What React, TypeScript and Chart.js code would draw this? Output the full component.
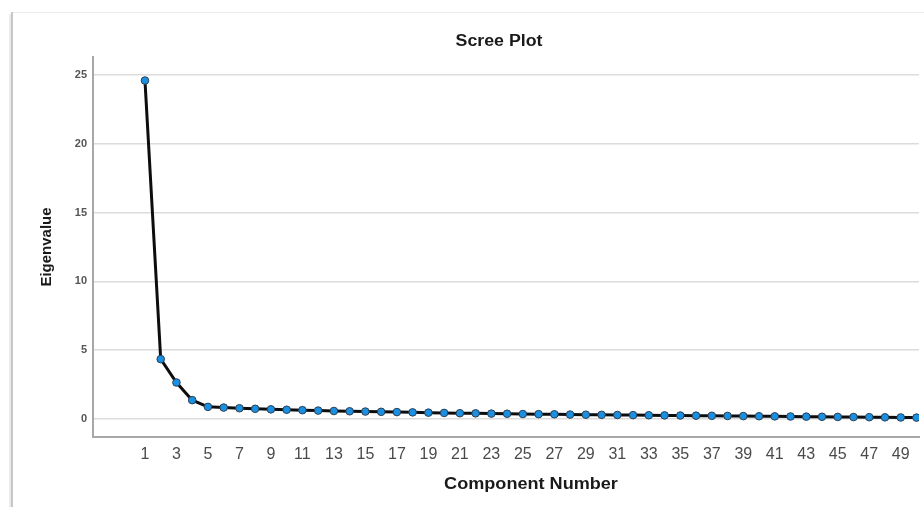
import React, { useEffect, useRef } from "react";
import { Chart, registerables } from "chart.js";

Chart.register(...registerables);

const components = [
  1, 2, 3, 4, 5, 6, 7, 8, 9, 10, 11, 12, 13, 14, 15, 16, 17, 18, 19, 20, 21, 22, 23, 24, 25,
  26, 27, 28, 29, 30, 31, 32, 33, 34, 35, 36, 37, 38, 39, 40, 41, 42, 43, 44, 45, 46, 47, 48, 49, 50,
];
const eigenvalues = [
  24.6, 4.35, 2.65, 1.37, 0.88, 0.83, 0.78, 0.74, 0.7, 0.67, 0.64, 0.61, 0.58, 0.56, 0.54, 0.52, 0.5,
  0.48, 0.46, 0.44, 0.42, 0.41, 0.39, 0.38, 0.36, 0.35, 0.34, 0.32, 0.31, 0.3, 0.29, 0.28, 0.27, 0.26,
  0.25, 0.24, 0.23, 0.22, 0.21, 0.2, 0.19, 0.18, 0.17, 0.16, 0.15, 0.14, 0.13, 0.12, 0.11, 0.1,
];
const xTickValues = [1, 3, 5, 7, 9, 11, 13, 15, 17, 19, 21, 23, 25, 27, 29, 31, 33, 35, 37, 39, 41, 43, 45, 47, 49];
const yTickValues = [0, 5, 10, 15, 20, 25];
const chartTitle = "Scree Plot";
const xAxisTitle = "Component Number";
const yAxisTitle = "Eigenvalue";

const FONT = '"Liberation Sans", Arial, sans-serif';

const decorPlugin = {
  id: "decor",
  beforeDraw(chart: any) {
    const ctx = chart.ctx;
    ctx.save();
    ctx.fillStyle = "#ffffff";
    ctx.fillRect(0, 0, chart.width, chart.height);
    // page frame
    ctx.strokeStyle = "#ececec";
    ctx.lineWidth = 1;
    ctx.beginPath();
    ctx.moveTo(12, 12.5);
    ctx.lineTo(chart.width, 12.5);
    ctx.stroke();
    ctx.strokeStyle = "#c6c6c6";
    ctx.lineWidth = 2;
    ctx.beginPath();
    ctx.moveTo(12, 12);
    ctx.lineTo(12, chart.height);
    ctx.stroke();
    ctx.strokeStyle = "#ebebeb";
    ctx.lineWidth = 2;
    ctx.beginPath();
    ctx.moveTo(10, 14);
    ctx.lineTo(10, chart.height);
    ctx.stroke();
    ctx.restore();
  },
  afterDraw(chart: any) {
    const ctx = chart.ctx;
    ctx.save();
    ctx.fillStyle = "#1a1a1a";
    ctx.font = `bold 16px ${FONT}`;
    ctx.textAlign = "center";
    ctx.textBaseline = "middle";
    ctx.save();
    ctx.translate(499, 42);
    ctx.scale(1.11, 1);
    ctx.fillText(chartTitle, 0, 0);
    ctx.restore();
    ctx.save();
    ctx.translate(531, 485);
    ctx.scale(1.13, 1);
    ctx.fillText(xAxisTitle, 0, 0);
    ctx.restore();
    ctx.font = `bold 15px ${FONT}`;
    ctx.translate(47, 247);
    ctx.rotate(-Math.PI / 2);
    ctx.fillText(yAxisTitle, 0, 0);
    ctx.restore();
  },
};

export default function App() {
  const canvasRef = useRef<HTMLCanvasElement | null>(null);

  useEffect(() => {
    if (!canvasRef.current) return;
    const chart = new Chart(canvasRef.current, {
      type: "line",
      data: {
        datasets: [
          {
            data: components.map((c, i) => ({ x: c, y: eigenvalues[i] })),
            borderColor: "#0d0d0d",
            borderWidth: 3,
            pointRadius: 3.8,
            pointBackgroundColor: "#1b8fe0",
            pointBorderColor: "#2b3f55",
            pointBorderWidth: 1,
            tension: 0,
          },
        ],
      },
      options: {
        animation: false,
        responsive: true,
        maintainAspectRatio: false,
        layout: { padding: { top: 57, right: 5, left: 0, bottom: 0 } },
        plugins: {
          legend: { display: false },
          tooltip: { enabled: false },
          title: { display: false },
        },
        scales: {
          x: {
            type: "linear",
            min: -2.3,
            max: 50.16,
            afterBuildTicks: (scale: any) => {
              scale.ticks = xTickValues.map((v) => ({ value: v }));
            },
            afterFit: (scale: any) => {
              scale.height = 70;
            },
            grid: { display: false, drawTicks: false },
            border: { display: true, color: "#a8a8a8", width: 2 },
            ticks: {
              autoSkip: false,
              maxRotation: 0,
              padding: 8,
              color: "#4a4a4a",
              font: { family: FONT, size: 16 },
            },
          },
          y: {
            type: "linear",
            min: -1.31,
            max: 26.31,
            afterBuildTicks: (scale: any) => {
              scale.ticks = yTickValues.map((v) => ({ value: v }));
            },
            afterFit: (scale: any) => {
              scale.width = 93;
            },
            grid: { color: "#dcdcdc", lineWidth: 1.5, drawTicks: false },
            border: { display: true, color: "#a8a8a8", width: 2 },
            ticks: {
              padding: 6,
              color: "#555555",
              font: { family: FONT, size: 11, weight: "bold" },
            },
          },
        },
      },
      plugins: [decorPlugin],
    });
    return () => chart.destroy();
  }, []);

  return (
    <div style={{ position: "fixed", left: 0, top: 0, width: 924, height: 507, background: "#fff" }}>
      <canvas ref={canvasRef} />
    </div>
  );
}
